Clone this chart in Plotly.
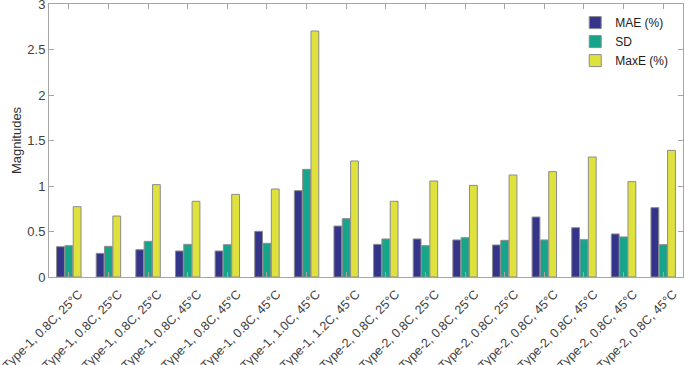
import plotly.graph_objects as go

categories = [
    "Type-1, 0.8C, 25°C", "Type-1, 0.8C, 25°C", "Type-1, 0.8C, 25°C",
    "Type-1, 0.8C, 45°C", "Type-1, 0.8C, 45°C", "Type-1, 0.8C, 45°C",
    "Type-1, 1.0C, 45°C", "Type-1, 1.2C, 45°C",
    "Type-2, 0.8C, 25°C", "Type-2, 0.8C, 25°C", "Type-2, 0.8C, 25°C", "Type-2, 0.8C, 25°C",
    "Type-2, 0.8C, 45°C", "Type-2, 0.8C, 45°C", "Type-2, 0.8C, 45°C", "Type-2, 0.8C, 45°C",
]
positions = list(range(1, len(categories) + 1))

mae = [0.333, 0.26, 0.30, 0.286, 0.286, 0.502, 0.949, 0.56,
       0.359, 0.418, 0.407, 0.352, 0.659, 0.542, 0.473, 0.762]
sd = [0.344, 0.337, 0.392, 0.359, 0.355, 0.37, 1.183, 0.641,
      0.418, 0.344, 0.432, 0.403, 0.407, 0.41, 0.44, 0.355]
maxe = [0.773, 0.67, 1.015, 0.832, 0.908, 0.967, 2.703, 1.275,
        0.832, 1.055, 1.007, 1.121, 1.158, 1.319, 1.048, 1.392]

y_ticks = [0, 0.5, 1, 1.5, 2, 2.5, 3]
y_tick_labels = ["0", "0.5", "1", "1.5", "2", "2.5", "3"]

series = [("MAE (%)", mae, "#33348a"), ("SD", sd, "#16a58a"), ("MaxE (%)", maxe, "#dfe13c")]

fig = go.Figure()
for name, vals, col in series:
    fig.add_trace(go.Bar(
        x=positions, y=vals, name=name,
        marker=dict(color=col, line=dict(color="#8c8c8c", width=1)),
    ))

axis_font = dict(family="Liberation Sans, Arial, sans-serif", size=13, color="#404040")

fig.update_layout(
    width=685, height=365,
    margin=dict(l=49, r=2, t=4, b=88, autoexpand=False),
    paper_bgcolor="white", plot_bgcolor="white",
    barmode="group", bargap=0.37, bargroupgap=0.06,
    font=axis_font,
    showlegend=True,
    legend=dict(x=0.83, y=0.985, xanchor="left", yanchor="top",
                bgcolor="rgba(255,255,255,0)", borderwidth=0,
                font=dict(family="Liberation Sans, Arial, sans-serif", size=12, color="#202020"),
                itemwidth=30, tracegroupgap=0),
    xaxis=dict(
        range=[0.5, 16.5], tickmode="array", tickvals=positions, ticktext=categories,
        tickangle=-45, tickfont=dict(size=12.5, color="#404040"),
        ticklabelshift=10, ticklabelstandoff=4,
        automargin=False, ticklabeloverflow="allow",
        showline=True, linecolor="#a6a6a6", linewidth=1, mirror="ticks",
        ticks="inside", ticklen=5, tickcolor="#a6a6a6", showgrid=False, zeroline=False,
    ),
    yaxis=dict(
        range=[0, 3], tickmode="array", tickvals=y_ticks, ticktext=y_tick_labels,
        title=dict(text="Magnitudes", font=dict(size=13, color="#303030"), standoff=2),
        automargin=False, ticklabeloverflow="allow",
        showline=True, linecolor="#a6a6a6", linewidth=1, mirror="ticks",
        ticks="inside", ticklen=5, tickcolor="#a6a6a6", showgrid=False, zeroline=False,
    ),
)

fig.write_html("out.html", config={"displayModeBar": False},
               post_script="document.body.style.margin='0px';")
